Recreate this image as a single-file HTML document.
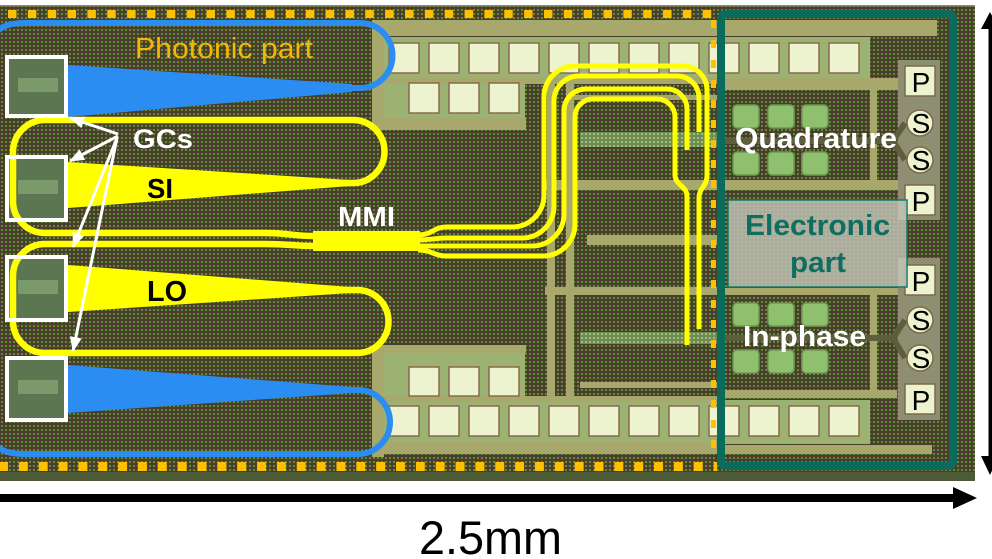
<!DOCTYPE html>
<html><head><meta charset="utf-8"><style>
html,body{margin:0;padding:0;background:#fff;}
svg{display:block;font-family:"Liberation Sans",Arial,sans-serif;}
</style></head><body>
<svg width="992" height="559" viewBox="0 0 992 559" xmlns="http://www.w3.org/2000/svg">
<defs>
<pattern id="dk" width="4" height="4" patternUnits="userSpaceOnUse"><rect width="4" height="4" fill="#4a3d2b"/><rect x="1" y="1" width="2" height="2" fill="#5e8a3a"/></pattern>
<pattern id="gdot" width="4" height="4" patternUnits="userSpaceOnUse"><rect width="4" height="4" fill="#6f8a52"/><rect x="1" y="1" width="2" height="2" fill="#9ac07a"/></pattern>
<pattern id="odt" x="8" y="10" width="19.85" height="20" patternUnits="userSpaceOnUse"><rect width="8.5" height="8" fill="#ffc000"/></pattern>
<pattern id="odb" x="-1" y="462" width="19.85" height="20" patternUnits="userSpaceOnUse"><rect width="9" height="9" fill="#ffc000"/></pattern>
<pattern id="odv" x="711" y="20" width="10" height="20" patternUnits="userSpaceOnUse"><rect width="5" height="8" fill="#ffc000"/></pattern>
<marker id="ah" markerWidth="15" markerHeight="12" refX="14" refY="6" orient="auto" markerUnits="userSpaceOnUse"><path d="M0,0 L15,6 L0,12 Z" fill="#fff"/></marker>
</defs>
<rect width="992" height="559" fill="#fff"/>
<!-- chip base -->
<rect x="0" y="5" width="975" height="476" fill="url(#dk)"/>
<rect x="0" y="5" width="975" height="1.5" fill="#8a8a70"/>
<rect x="0" y="472" width="975" height="9" fill="#4c5a36"/>

<!-- right section outside teal box -->
<g fill="#a8a86c">
<rect x="372" y="20" width="345" height="16"/>
<rect x="372" y="20" width="12" height="110"/>
<rect x="376" y="78" width="341" height="6"/>
<rect x="376" y="118" width="150" height="12"/>
<rect x="567" y="95" width="150" height="5"/>
<rect x="543" y="180" width="174" height="10"/>
<rect x="587" y="235" width="130" height="10"/>
<rect x="545" y="287" width="172" height="8"/>
<rect x="580" y="382" width="137" height="6"/>
<rect x="547" y="84" width="8" height="316"/>
<rect x="566" y="84" width="8" height="316"/>
<rect x="372" y="345" width="12" height="112"/>
<rect x="376" y="345" width="150" height="8"/>
<rect x="376" y="396" width="341" height="6"/>
<rect x="376" y="442" width="341" height="12"/>
</g>
<rect x="384" y="37" width="333" height="41" fill="#9cb272"/>
<rect x="384" y="84" width="141" height="34" fill="#9cb272"/>
<rect x="384" y="353" width="141" height="43" fill="#9cb272"/>
<rect x="384" y="402" width="333" height="40" fill="#9cb272"/>
<rect x="580" y="132" width="137" height="15" fill="url(#gdot)"/>
<rect x="580" y="332" width="137" height="12" fill="url(#gdot)"/>

<!-- inside teal box background -->
<g fill="#a8a86c">
<rect x="717" y="20" width="220" height="16"/>
<rect x="717" y="78" width="188" height="12"/>
<rect x="717" y="180" width="188" height="10"/>
<rect x="717" y="288" width="183" height="7"/>
<rect x="717" y="390" width="180" height="8"/>
<rect x="717" y="445" width="215" height="9"/>
<rect x="870" y="85" width="7" height="105"/>
<rect x="870" y="290" width="7" height="105"/>
</g>
<rect x="717" y="37" width="153" height="41" fill="#9cb272"/>
<rect x="717" y="400" width="153" height="44" fill="#9cb272"/>
<rect x="898" y="60" width="42" height="160" fill="#8e8f72"/>
<rect x="898" y="258" width="42" height="162" fill="#8e8f72"/>

<!-- pads -->
<g fill="#eef3cf" stroke="#8a6b4c" stroke-width="1.5">
<rect x="389" y="43" width="30" height="30"/><rect x="429" y="43" width="30" height="30"/><rect x="469" y="43" width="30" height="30"/><rect x="509" y="43" width="30" height="30"/><rect x="549" y="43" width="30" height="30"/><rect x="589" y="43" width="30" height="30"/><rect x="629" y="43" width="30" height="30"/><rect x="669" y="43" width="30" height="30"/><rect x="709" y="43" width="30" height="30"/><rect x="749" y="43" width="30" height="30"/><rect x="789" y="43" width="30" height="30"/><rect x="829" y="43" width="30" height="30"/>
<rect x="409" y="83" width="30" height="30"/><rect x="449" y="83" width="30" height="30"/><rect x="489" y="83" width="30" height="30"/>
<rect x="409" y="367" width="30" height="29"/><rect x="449" y="367" width="30" height="29"/><rect x="489" y="367" width="30" height="29"/>
<rect x="389" y="406" width="30" height="30"/><rect x="429" y="406" width="30" height="30"/><rect x="469" y="406" width="30" height="30"/><rect x="509" y="406" width="30" height="30"/><rect x="549" y="406" width="30" height="30"/><rect x="589" y="406" width="30" height="30"/><rect x="629" y="406" width="30" height="30"/><rect x="669" y="406" width="30" height="30"/><rect x="709" y="406" width="30" height="30"/><rect x="749" y="406" width="30" height="30"/><rect x="789" y="406" width="30" height="30"/><rect x="829" y="406" width="30" height="30"/>
</g>

<!-- amplifier blocks -->
<g stroke="#5d5f3c" stroke-width="6" fill="none">
<path d="M725,141 L893,141 L905,123 M893,141 L905,160"/>
<path d="M725,338 L893,338 L905,320 M893,338 L905,358"/>
</g>
<g fill="#8ec06e" stroke="#6a9a50" stroke-width="1.5">
<rect x="733" y="105" width="26" height="23" rx="4"/><rect x="768" y="105" width="26" height="23" rx="4"/><rect x="802" y="105" width="26" height="23" rx="4"/>
<rect x="733" y="152" width="26" height="23" rx="4"/><rect x="768" y="152" width="26" height="23" rx="4"/><rect x="802" y="152" width="26" height="23" rx="4"/>
<rect x="733" y="303" width="26" height="23" rx="4"/><rect x="768" y="303" width="26" height="23" rx="4"/><rect x="802" y="303" width="26" height="23" rx="4"/>
<rect x="733" y="350" width="26" height="23" rx="4"/><rect x="768" y="350" width="26" height="23" rx="4"/><rect x="802" y="350" width="26" height="23" rx="4"/>
</g>

<!-- PSSP pads -->
<g fill="#eef3cf" stroke="#7a6a4c" stroke-width="1.5">
<rect x="905" y="66" width="30" height="30"/><rect x="905" y="185" width="30" height="30"/>
<rect x="905" y="265" width="30" height="30"/><rect x="905" y="384" width="30" height="30"/>
<circle cx="920" cy="123" r="13"/><circle cx="920" cy="160" r="13"/>
<circle cx="920" cy="320" r="13"/><circle cx="920" cy="358" r="13"/>
</g>
<g font-size="28" fill="#000" text-anchor="middle">
<text x="921" y="92">P</text><text x="921" y="133">S</text><text x="921" y="170">S</text><text x="921" y="211">P</text>
<text x="921" y="291">P</text><text x="921" y="330">S</text><text x="921" y="368">S</text><text x="921" y="410">P</text>
</g>

<!-- orange dashed boundary -->
<rect x="0" y="10" width="716" height="8" fill="url(#odt)"/>
<rect x="0" y="462" width="717" height="9" fill="url(#odb)"/>
<rect x="711" y="20" width="5" height="440" fill="url(#odv)"/>

<!-- GC square fills -->
<g fill="#5c7652">
<rect x="7" y="57" width="59" height="59"/><rect x="7" y="157" width="59" height="63"/>
<rect x="7" y="257" width="59" height="63"/><rect x="7" y="358" width="59" height="62"/>
</g>
<g fill="#7a9a6c">
<rect x="18" y="78" width="40" height="14"/><rect x="18" y="180" width="40" height="14"/>
<rect x="18" y="280" width="40" height="14"/><rect x="18" y="380" width="40" height="14"/>
</g>

<!-- blue loops -->
<g fill="#2b8cf2">
<polygon points="68,65 352,84 352,92 68,117"/>
<polygon points="68,365 352,387 352,393 68,413"/>
</g>
<g fill="none" stroke="#2b8cf2" stroke-width="6">
<path d="M-10,45 C-5,28 5,23 25,23 L360,23 A32.5,32.5 0 0 1 360,88 L340,88"/>
<path d="M340,390 L358,390 A32,32 0 0 1 358,454 L25,454 C5,454 -5,449 -10,435"/>
</g>

<!-- yellow loops -->
<g fill="#ffff00">
<polygon points="68,162 350,180 350,186 68,208"/>
<polygon points="68,265 350,287 350,293 68,312"/>
<rect x="313" y="231" width="107" height="20"/>
</g>
<g fill="none" stroke="#ffff00" stroke-width="6.5">
<path d="M340,183 L353,183 A31.5,31.5 0 0 0 353,120 L45,120 A32,32 0 0 0 13,152 L13,201 A32,32 0 0 0 45,233 L265,233 C290,233 292,236 315,236"/>
<path d="M315,246 C292,246 290,244 265,244 L45,244 A32,32 0 0 0 13,276 L13,321 A32,32 0 0 0 45,353 L357,353 A31.5,31.5 0 0 0 357,290 L340,290"/>
</g>
<g fill="none" stroke="#ffff00" stroke-width="5">
<path d="M418,235 C432,235 434,227 446,227 L512,227 A32,32 0 0 0 544,195 L544,97 A31,31 0 0 1 575,66 L683,66 A24,24 0 0 1 707,90 L707,176 C707,186 699,188 699,198 L699,329"/>
<path d="M418,240 C432,240 434,238 446,238 L522,238 A32,32 0 0 0 554,206 L554,101 A25,25 0 0 1 579,76 L677,76 A22,22 0 0 1 699,98 L699,132"/>
<path d="M418,246 L532,246 A32,32 0 0 0 564,214 L564,111 A22,22 0 0 1 586,89 L667,89 A20,20 0 0 1 687,109 L687,150"/>
<path d="M418,250 C432,250 434,256 446,256 L543,256 A32,32 0 0 0 575,224 L575,117 A18,18 0 0 1 593,99 L657,99 A18,18 0 0 1 675,117 L675,175 C675,185 687,186 687,196 L687,345"/>
</g>

<!-- GC square borders -->
<g fill="none" stroke="#fff" stroke-width="4">
<rect x="7" y="57" width="59" height="59"/><rect x="7" y="157" width="59" height="63"/>
<rect x="7" y="257" width="59" height="63"/><rect x="7" y="358" width="59" height="62"/>
</g>

<!-- GC arrows -->
<g stroke="#fff" stroke-width="3" marker-end="url(#ah)">
<line x1="118" y1="134" x2="70" y2="118"/>
<line x1="118" y1="136" x2="70" y2="161"/>
<line x1="117" y1="138" x2="73" y2="247"/>
<line x1="117" y1="138" x2="73" y2="351"/>
</g>

<!-- teal electronic box -->
<rect x="721" y="14" width="232" height="452" rx="5" fill="none" stroke="#0b6b5d" stroke-width="8"/>
<rect x="728" y="200" width="179" height="87" fill="#c8cabe" fill-opacity="0.78" stroke="#137a68" stroke-width="1.5"/>

<!-- labels -->
<text x="135" y="58" font-size="29" fill="#f5b700" textLength="178" lengthAdjust="spacingAndGlyphs">Photonic part</text>
<text x="133" y="148" font-size="27" font-weight="bold" fill="#fff" textLength="60" lengthAdjust="spacingAndGlyphs">GCs</text>
<text x="147" y="198" font-size="28" font-weight="bold" fill="#000" textLength="26" lengthAdjust="spacingAndGlyphs">SI</text>
<text x="147" y="301" font-size="29" font-weight="bold" fill="#000" textLength="40" lengthAdjust="spacingAndGlyphs">LO</text>
<text x="338" y="226" font-size="28" font-weight="bold" fill="#fff" textLength="57" lengthAdjust="spacingAndGlyphs">MMI</text>
<text x="735" y="148" font-size="29" font-weight="bold" fill="#fff" textLength="162" lengthAdjust="spacingAndGlyphs">Quadrature</text>
<text x="745" y="235" font-size="29" font-weight="bold" fill="#0f6e5f" textLength="145" lengthAdjust="spacingAndGlyphs">Electronic</text>
<text x="790" y="272" font-size="29" font-weight="bold" fill="#0f6e5f" textLength="56" lengthAdjust="spacingAndGlyphs">part</text>
<text x="743" y="346" font-size="29" font-weight="bold" fill="#fff" textLength="123" lengthAdjust="spacingAndGlyphs">In-phase</text>

<!-- scale arrows -->
<rect x="0" y="494" width="956" height="8" fill="#000"/>
<polygon points="953,487 977,498 953,509" fill="#000"/>
<rect x="988.5" y="24" width="3.5" height="434" fill="#000"/>
<polygon points="990,12 981,29 999,29" fill="#000"/>
<polygon points="990,475 981,456 999,456" fill="#000"/>
<text x="419" y="554" font-size="47" fill="#000" textLength="143" lengthAdjust="spacingAndGlyphs">2.5mm</text>
</svg>
</body></html>
